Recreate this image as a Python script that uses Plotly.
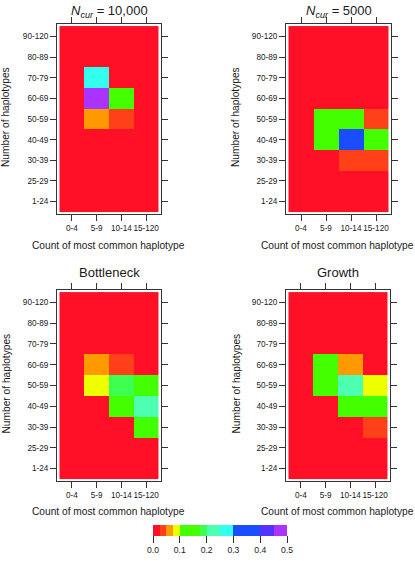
import plotly.graph_objects as go

W, H = 415, 561

x_labels = ["0-4", "5-9", "10-14", "15-120"]
y_labels = ["1-24", "25-29", "30-39", "40-49", "50-59", "60-69", "70-79", "80-89", "90-120"]

# rows follow y_labels (bottom to top), columns follow x_labels
ncur_10000 = [
    [0.01, 0.01, 0.01, 0.01],
    [0.01, 0.01, 0.01, 0.01],
    [0.01, 0.01, 0.01, 0.01],
    [0.01, 0.01, 0.01, 0.01],
    [0.01, 0.06, 0.035, 0.01],
    [0.01, 0.48, 0.13, 0.01],
    [0.01, 0.28, 0.01, 0.01],
    [0.01, 0.01, 0.01, 0.01],
    [0.01, 0.01, 0.01, 0.01],
]
ncur_5000 = [
    [0.01, 0.01, 0.01, 0.01],
    [0.01, 0.01, 0.01, 0.01],
    [0.01, 0.01, 0.035, 0.035],
    [0.01, 0.13, 0.35, 0.13],
    [0.01, 0.13, 0.13, 0.035],
    [0.01, 0.01, 0.01, 0.01],
    [0.01, 0.01, 0.01, 0.01],
    [0.01, 0.01, 0.01, 0.01],
    [0.01, 0.01, 0.01, 0.01],
]
bottleneck = [
    [0.01, 0.01, 0.01, 0.01],
    [0.01, 0.01, 0.01, 0.01],
    [0.01, 0.01, 0.01, 0.13],
    [0.01, 0.01, 0.13, 0.22],
    [0.01, 0.09, 0.18, 0.13],
    [0.01, 0.06, 0.035, 0.01],
    [0.01, 0.01, 0.01, 0.01],
    [0.01, 0.01, 0.01, 0.01],
    [0.01, 0.01, 0.01, 0.01],
]
growth = [
    [0.01, 0.01, 0.01, 0.01],
    [0.01, 0.01, 0.01, 0.01],
    [0.01, 0.01, 0.01, 0.035],
    [0.01, 0.01, 0.13, 0.13],
    [0.01, 0.13, 0.22, 0.09],
    [0.01, 0.13, 0.06, 0.01],
    [0.01, 0.01, 0.01, 0.01],
    [0.01, 0.01, 0.01, 0.01],
    [0.01, 0.01, 0.01, 0.01],
]

titles = ["<i>N</i><sub><i>cur</i></sub> = 10,000", "<i>N</i><sub><i>cur</i></sub> = 5000",
          "Bottleneck", "Growth"]
panels = [ncur_10000, ncur_5000, bottleneck, growth]

breaks = [0, 0.025, 0.05, 0.075, 0.1, 0.175, 0.2, 0.25, 0.3, 0.4, 0.45, 0.5]
colors = ["#FF1026", "#FF4019", "#FF9900", "#EEFF00", "#44FF00", "#3CFF50",
          "#4DFFB0", "#33FFEE", "#1A4DFF", "#5533FF", "#AA33FF"]
cb_ticks = [0, 0.1, 0.2, 0.3, 0.4, 0.5]
cb_ticktext = ["0.0", "0.1", "0.2", "0.3", "0.4", "0.5"]

cmax = breaks[-1]
colorscale = []
for i, c in enumerate(colors):
    colorscale.append([breaks[i] / cmax, c])
    colorscale.append([breaks[i + 1] / cmax, c])

FONT = "Liberation Sans, Arial, Helvetica, sans-serif"
TXT = "#1a1a1a"

# pixel boxes: (left, right, top, bottom)
boxes = [(57, 161, 24, 214), (286, 391, 24, 214), (57, 161, 290, 481), (286, 390, 290, 481)]
title_offsets = [13, 13, 17, 17]

fig = go.Figure()
layout = {}
annotations = []
for k, (z, box) in enumerate(zip(panels, boxes), start=1):
    xa = "x" if k == 1 else f"x{k}"
    ya = "y" if k == 1 else f"y{k}"
    fig.add_trace(go.Heatmap(
        z=z, x=list(range(len(x_labels))), y=list(range(len(y_labels))),
        coloraxis="coloraxis", xaxis=xa, yaxis=ya, hoverinfo="skip"))
    l, r, t, b = box
    common = dict(showline=True, mirror="ticks", linecolor="#333", linewidth=1,
                  ticks="outside", ticklen=6, tickcolor="#333", tickwidth=1,
                  showgrid=False, zeroline=False, fixedrange=True, tickangle=0,
                  tickfont=dict(family=FONT, size=8.2, color=TXT))
    layout["xaxis" if k == 1 else f"xaxis{k}"] = dict(
        domain=[l / W, r / W], range=[-0.6, 3.6], anchor=ya,
        tickvals=list(range(len(x_labels))), ticktext=x_labels, **common)
    layout["yaxis" if k == 1 else f"yaxis{k}"] = dict(
        domain=[1 - b / H, 1 - t / H], range=[-0.6, 8.6], anchor=xa,
        tickvals=list(range(len(y_labels))), ticktext=y_labels, **common)
    cx = (l + r) / 2
    # panel title
    annotations.append(dict(text=titles[k - 1], x=cx / W, y=1 - (t - title_offsets[k - 1]) / H,
                            xref="paper", yref="paper", xanchor="center", yanchor="middle",
                            showarrow=False, font=dict(family=FONT, size=13, color=TXT)))
    # x axis title
    annotations.append(dict(text="Count of most common haplotype", x=(cx - 1) / W,
                            y=1 - (b + 31) / H, xref="paper", yref="paper",
                            xanchor="center", yanchor="middle", showarrow=False,
                            font=dict(family=FONT, size=10.2, color=TXT)))
    # y axis title
    ytx = 6 if l < 200 else 236
    annotations.append(dict(text="Number of haplotypes", x=ytx / W, y=1 - ((t + b) / 2 - 2) / H,
                            xref="paper", yref="paper", xanchor="center", yanchor="middle",
                            textangle=-90, showarrow=False,
                            font=dict(family=FONT, size=10.2, color=TXT)))

layout["coloraxis"] = dict(
    colorscale=colorscale, cmin=0, cmax=cmax,
    colorbar=dict(orientation="h", x=220 / W, xanchor="center", y=1 - 525 / H, yanchor="top",
                  len=134, lenmode="pixels", thickness=11, thicknessmode="pixels",
                  outlinewidth=0, xpad=0, ypad=0,
                  tickvals=cb_ticks, ticktext=cb_ticktext, ticks="outside", ticklen=7,
                  tickcolor="#333", tickfont=dict(family=FONT, size=8.6, color=TXT)))

fig.update_layout(width=W, height=H, margin=dict(l=0, r=0, t=0, b=0),
                  paper_bgcolor="white", plot_bgcolor="white",
                  showlegend=False, annotations=annotations, **layout)

fig.write_html("out.html", config={"displayModeBar": False},
               post_script="document.body.style.margin='0';")
